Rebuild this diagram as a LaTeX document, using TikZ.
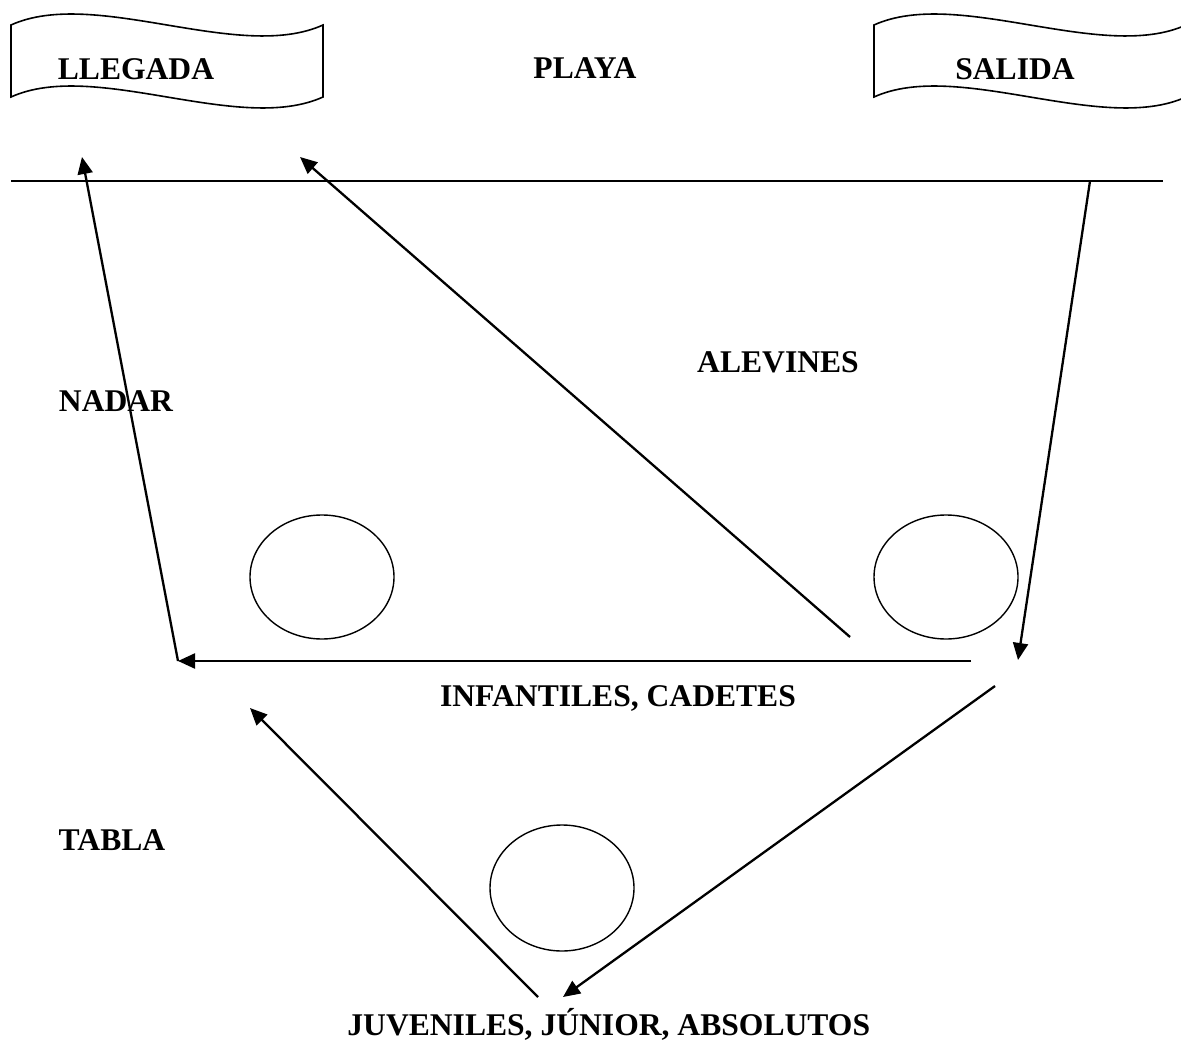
\documentclass[tikz,border=0pt]{standalone}
\usepackage{fontspec}
\setmainfont{Liberation Serif}
\usetikzlibrary{arrows.meta}
\tikzset{node distance=2.5cm, auto,
  etiq/.style={font=\bfseries\fontsize{15.8}{19}\selectfont, inner sep=0pt, anchor=base},
  flecha/.style={-{Triangle[length=8.5pt,width=7.5pt]}, line width=1.15pt},
  borde/.style={line width=0.8pt}}

\begin{document}
\begin{tikzpicture}[x=0.5pt, y=-0.5pt]
  \useasboundingbox (0,0) rectangle (1181,1042);
  % banderas
  \foreach \dx in {0,863} {
    \draw[borde] (11+\dx,25) .. controls (95+\dx,-13) and (239+\dx,63) .. (323+\dx,25)
      -- (323+\dx,97) .. controls (239+\dx,135) and (95+\dx,59) .. (11+\dx,97) -- cycle;
  }
  \node[etiq] (llegada)    at (136,80)   {LLEGADA};
  \node[etiq] (playa)      at (585,79)   {PLAYA};
  \node[etiq] (salida)     at (1015,80)  {SALIDA};
  \node[etiq] (alevines)   at (778,373)  {ALEVINES};
  \node[etiq] (nadar)      at (116,411)  {NADAR};
  \node[etiq] (infantiles) at (618,706)  {INFANTILES, CADETES};
  \node[etiq] (tabla)      at (112,850)  {TABLA};
  \node[etiq, anchor=base west] (juveniles) at (347,1035) {JUVENILES, JÚNIOR, ABSOLUTOS};
  % orilla
  \coordinate (o1) at (11,181);
  \coordinate (o2) at (1163,181);
  \draw[line width=1pt] (o1) -- (o2);
  % boyas
  \draw[line width=0.7pt] (322,577) ellipse [x radius=72, y radius=62];
  \draw[line width=0.7pt] (946,577) ellipse [x radius=72, y radius=62];
  \draw[line width=0.7pt] (562,888) ellipse [x radius=72, y radius=63];
  % recorridos
  \coordinate (esq) at (178,661);
  \coordinate (lleg1) at (82,157);
  \coordinate (lleg2) at (300,157);
  \coordinate (bal) at (850,637);
  \coordinate (sal) at (1090,181);
  \coordinate (der) at (1018,660);
  \coordinate (hor) at (971,661);
  \coordinate (dia) at (995,686);
  \coordinate (aba1) at (563,997);
  \coordinate (aba2) at (538,997);
  \coordinate (izq) at (250,708);
  \draw[flecha] (esq) -- (lleg1);
  \draw[flecha] (bal) -- (lleg2);
  \draw[flecha] (sal) -- (der);
  \draw[flecha] (hor) -- (esq);
  \draw[flecha] (dia) -- (aba1);
  \draw[flecha] (aba2) -- (izq);
\end{tikzpicture}
\end{document}
